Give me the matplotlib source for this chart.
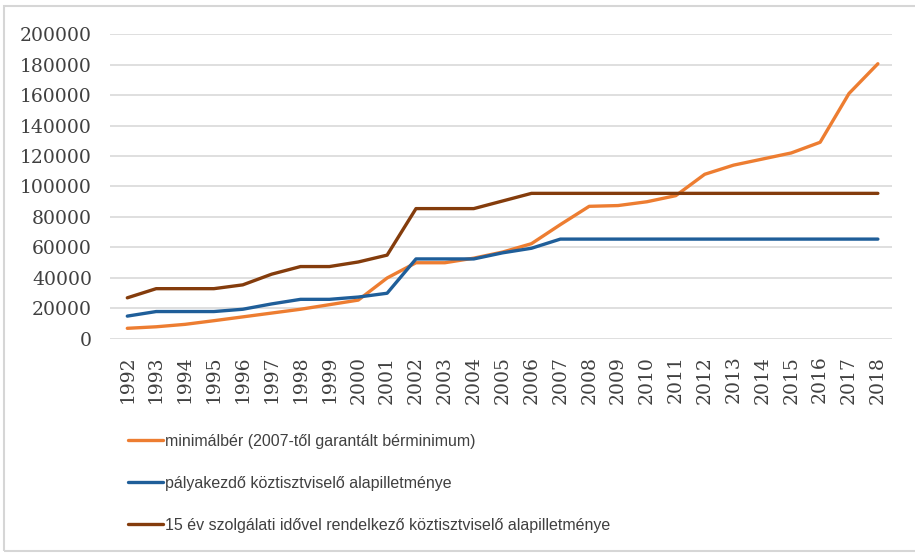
import numpy as np
import matplotlib
matplotlib.use('Agg')
import matplotlib.pyplot as plt
from matplotlib.patches import Rectangle

years = [str(y) for y in range(1992, 2019)]

# minimálbér (2007-től garantált bérminimum)
min_wage = [7000, 8000, 9600, 12000, 14500, 17000, 19500, 22500, 25500, 40000,
            50000, 50000, 53000, 57000, 62500, 75000, 87000, 87500, 90000, 94000,
            108000, 114000, 118000, 122000, 129000, 161000, 180500]
# pályakezdő köztisztviselő alapilletménye
starter = [15000, 18000, 18000, 18000, 19500, 23000, 26000, 26000, 27500, 30000,
           52500, 52500, 52500, 56500, 59500, 65500, 65500, 65500, 65500, 65500,
           65500, 65500, 65500, 65500, 65500, 65500, 65500]
# 15 év szolgálati idővel rendelkező köztisztviselő alapilletménye
senior = [27000, 33000, 33000, 33000, 35500, 42500, 47500, 47500, 50500, 55000,
          85500, 85500, 85500, 90500, 95500, 95500, 95500, 95500, 95500, 95500,
          95500, 95500, 95500, 95500, 95500, 95500, 95500]

labels = ['minimálbér (2007-től garantált bérminimum)',
          'pályakezdő köztisztviselő alapilletménye',
          '15 év szolgálati idővel rendelkező köztisztviselő alapilletménye']
colors = ['#ED7D31', '#1F5E99', '#843C0C']

fig = plt.figure(figsize=(9.15, 5.53), dpi=100)
ax = fig.add_axes([0.1202, 0.387, 0.855, 0.5515])

x = np.arange(len(years))
lines = []
for vals, col, lab in zip([min_wage, starter, senior], colors, labels):
    ln, = ax.plot(x, vals, color=col, linewidth=2.4, label=lab, solid_capstyle='round')
    lines.append(ln)

ax.set_xlim(-0.6, len(years) - 0.5)
ax.set_ylim(0, 200000)
ax.set_yticks(np.arange(0, 200001, 20000))
ax.set_yticklabels([str(v) for v in range(0, 200001, 20000)])
ax.set_xticks(x)
ax.set_xticklabels(years, rotation=90)
ax.grid(axis='y', color='#D9D9D9', linewidth=1.2)
ax.set_axisbelow(True)
for s in ax.spines.values():
    s.set_visible(False)
ax.tick_params(length=0)
ax.tick_params(axis='y', pad=13, labelsize=13.5, labelcolor='#404040')
ax.tick_params(axis='x', pad=12, labelsize=13.5, labelcolor='#404040')
for t in ax.get_xticklabels() + ax.get_yticklabels():
    t.set_family('DejaVu Serif')

leg = fig.legend(handles=lines, loc='upper left', bbox_to_anchor=(0.14, 0.216),
                 frameon=False, handlelength=2.2, handletextpad=0.1,
                 labelspacing=1.7, borderaxespad=0, borderpad=0,
                 prop={'family': 'Liberation Sans', 'size': 11.5})
for t in leg.get_texts():
    t.set_color('#404040')

fig.patches.append(Rectangle((4 / 915, 2 / 553), 1.0, 1 - 8 / 553, transform=fig.transFigure,
                             fill=False, edgecolor='#D6D6D6', linewidth=1.5))

fig.savefig('out.png', dpi=100)
